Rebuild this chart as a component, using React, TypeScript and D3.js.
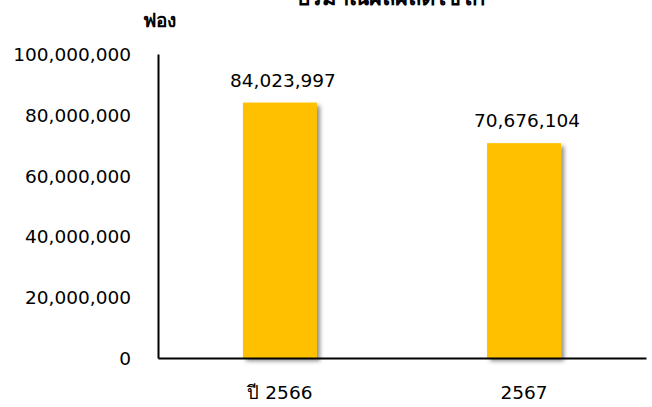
import * as d3 from "d3";
import { useEffect, useRef } from "react";

const categories = ["ปี 2566", "2567"];
const values = [84023997, 70676104];
const yTicks = [0, 20000000, 40000000, 60000000, 80000000, 100000000];
const title = "ปริมาณผลผลิตไข่ไก่";
const unit = "ฟอง";

const App = () => {
  const svgRef = useRef<SVGSVGElement | null>(null);

  useEffect(() => {
    if (!svgRef.current) return;

    const width = 652;
    const height = 407;
    const margin = { top: 54, right: 6, bottom: 49, left: 158 };
    const font = "'DejaVu Sans', 'Noto Sans', sans-serif";

    const x = d3
      .scaleBand<string>()
      .domain(categories)
      .range([margin.left, width - margin.right])
      .paddingInner(0.697)
      .paddingOuter(0.348);

    const y = d3
      .scaleLinear()
      .domain([0, 100000000])
      .range([height - margin.bottom, margin.top]);

    const svg = d3.select(svgRef.current);
    svg.selectAll("*").remove();

    // Drop shadow for the bars
    const filter = svg
      .append("defs")
      .append("filter")
      .attr("id", "shadow")
      .attr("x", "-20%")
      .attr("y", "-20%")
      .attr("width", "150%")
      .attr("height", "150%");
    filter
      .append("feDropShadow")
      .attr("dx", 3)
      .attr("dy", 3)
      .attr("stdDeviation", 2)
      .attr("flood-color", "#000")
      .attr("flood-opacity", 0.45);

    // Title (cut off at the top edge, as in the source)
    svg
      .append("text")
      .attr("x", 390)
      .attr("y", 5)
      .attr("text-anchor", "middle")
      .attr("font-family", font)
      .attr("font-weight", "bold")
      .attr("font-size", 22)
      .attr("fill", "#000")
      .text(title);

    // Unit label
    svg
      .append("text")
      .attr("x", 143)
      .attr("y", 27)
      .attr("font-family", font)
      .attr("font-weight", "bold")
      .attr("font-size", 19)
      .attr("fill", "#000")
      .text(unit);

    // Bars
    svg
      .append("g")
      .selectAll("rect")
      .data(values)
      .join("rect")
      .attr("x", (_, i) => x(categories[i]) ?? 0)
      .attr("y", (d) => y(d))
      .attr("width", x.bandwidth())
      .attr("height", (d) => y(0) - y(d))
      .attr("fill", "#FFC000")
      .attr("filter", "url(#shadow)");

    // Value labels
    svg
      .append("g")
      .selectAll("text")
      .data(values)
      .join("text")
      .attr("x", (_, i) => (x(categories[i]) ?? 0) + x.bandwidth() / 2 + 3)
      .attr("y", (d) => y(d) - 16)
      .attr("text-anchor", "middle")
      .attr("font-family", font)
      .attr("font-size", 18.5)
      .attr("fill", "#000")
      .text((d) => d3.format(",")(d));

    // Y axis
    const yAxis = svg
      .append("g")
      .attr("transform", `translate(${margin.left},0)`)
      .call(
        d3
          .axisLeft(y)
          .tickValues(yTicks)
          .tickSize(0)
          .tickPadding(27)
          .tickFormat((d) => d3.format(",")(d as number))
      );
    yAxis.select(".domain").attr("stroke", "#000").attr("stroke-width", 2);
    yAxis
      .selectAll("text")
      .attr("font-family", font)
      .attr("font-size", 18.5)
      .attr("fill", "#000")
      .attr("dy", "0.35em");

    // X axis
    const xAxis = svg
      .append("g")
      .attr("transform", `translate(0,${height - margin.bottom})`)
      .call(d3.axisBottom(x).tickSize(0).tickPadding(28));
    xAxis.select(".domain").attr("stroke", "#000").attr("stroke-width", 2);
    xAxis
      .selectAll("text")
      .attr("font-family", font)
      .attr("font-size", 18.5)
      .attr("fill", "#000");
  }, []);

  return (
    <svg
      ref={svgRef}
      width={652}
      height={407}
      style={{ position: "absolute", left: 0, top: 0, background: "#fff" }}
    ></svg>
  );
};

export default App;
